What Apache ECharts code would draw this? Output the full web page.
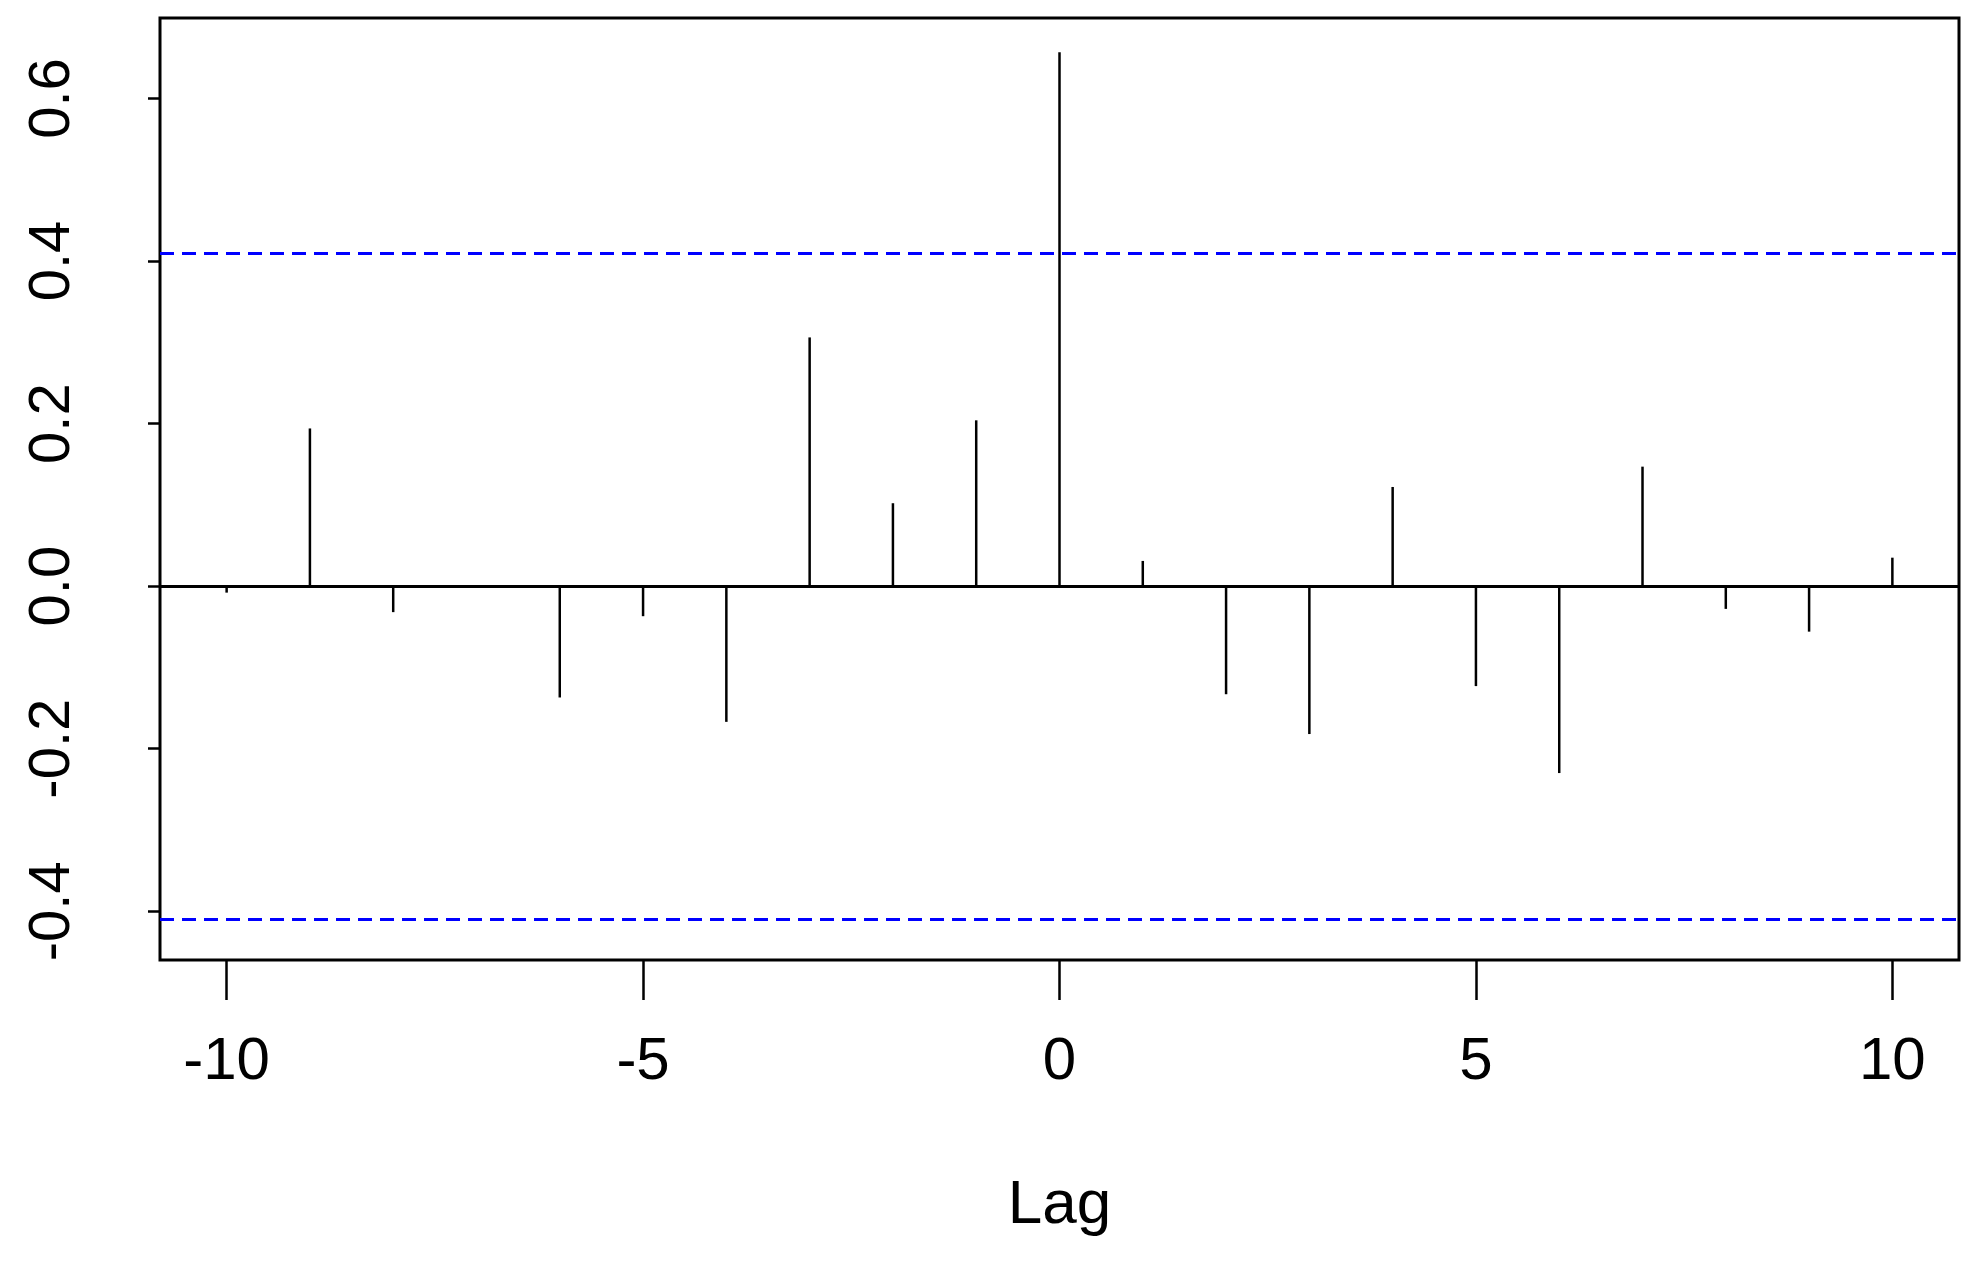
<!DOCTYPE html>
<html lang="en">
<head>
    <meta charset="UTF-8">
    <title>CCF</title>
    <script src="https://cdn.jsdelivr.net/npm/echarts@6/dist/echarts.min.js"></script>
</head>
<body style="margin:0">
    <div id="main" style="width: 1975px;height:1280px;"></div>
    <script type="text/javascript">
        // lags and cross-correlation values
        const lags = [-10, -9, -8, -7, -6, -5, -4, -3, -2, -1, 0, 1, 2, 3, 4, 5, 6, 7, 8, 9, 10];
        const ccf = [-0.008, 0.194, -0.032, 0.0, -0.137, -0.037, -0.167, 0.306, 0.102, 0.204, 0.657,
            0.031, -0.133, -0.182, 0.122, -0.123, -0.23, 0.147, -0.028, -0.056, 0.035];
        const ciBound = 0.41;
        const xTicks = [-10, -5, 0, 5, 10];
        const yTicks = [-0.4, -0.2, 0.0, 0.2, 0.4, 0.6];

        var myChart = echarts.init(document.getElementById('main'));
        const font = 'Liberation Sans';

        option = {
            animation: false,
            grid: { left: 160, right: 16, top: 18, bottom: 320, show: true, borderColor: '#000', borderWidth: 3 },
            xAxis: {
                type: 'value', min: -10.8, max: 10.8,
                name: 'Lag', nameLocation: 'middle', nameGap: 215,
                nameTextStyle: { fontFamily: font, fontSize: 62, color: '#000' },
                axisLine: { show: false, onZero: false },
                splitLine: { show: false },
                axisTick: { customValues: xTicks, length: 40, lineStyle: { color: '#000', width: 2.5 } },
                axisLabel: { customValues: xTicks, margin: 72, fontFamily: font, fontSize: 60, color: '#000' }
            },
            yAxis: {
                type: 'value', min: -0.46, max: 0.699,
                axisLine: { show: false, onZero: false },
                splitLine: { show: false },
                axisTick: { customValues: yTicks, length: 12, lineStyle: { color: '#000', width: 2.5 } },
                axisLabel: {
                    customValues: yTicks, rotate: 90, margin: 78, fontFamily: font, fontSize: 58, color: '#000',
                    formatter: v => v.toFixed(1)
                }
            },
            series: [{
                type: 'bar',
                barWidth: 2.5,
                itemStyle: { color: '#000' },
                data: lags.map((l, i) => [l, ccf[i]]),
                markLine: {
                    symbol: 'none', silent: true, label: { show: false },
                    data: [
                        { yAxis: 0, lineStyle: { color: '#000', type: 'solid', width: 3 } },
                        { yAxis: ciBound, lineStyle: { color: '#0000ff', type: [14, 8], width: 3 } },
                        { yAxis: -ciBound, lineStyle: { color: '#0000ff', type: [14, 8], width: 3 } }
                    ]
                }
            }]
        };
        myChart.setOption(option);
    </script>
</body>
</html>
